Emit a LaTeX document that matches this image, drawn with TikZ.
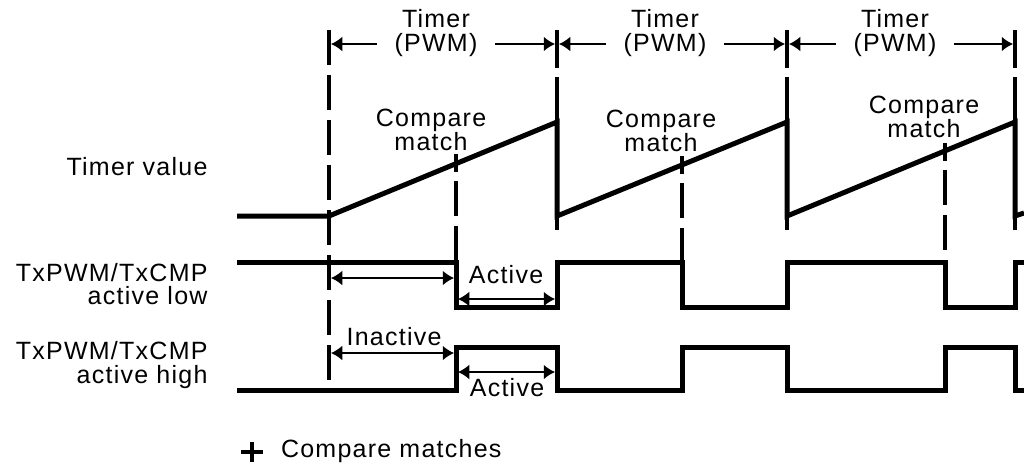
\documentclass[tikz,border=0pt]{standalone}
\usepackage{fontspec}
\setmainfont{Liberation Sans}[LetterSpace=5]
\usepackage{tikz}
\usetikzlibrary{arrows.meta, positioning, calc}

\begin{document}
\begin{tikzpicture}[x=0.4pt, y=-0.4pt,
    font=\fontsize{10}{9.4}\selectfont,
    sig/.style={line width=2pt, line join=miter},
    perline/.style={line width=1.6pt},
    cmpline/.style={line width=1.6pt, dash pattern=on 14pt off 4pt},
    dim/.style={{Latex[length=4.5pt,width=6pt]}-{Latex[length=4.5pt,width=6pt]}, line width=0.8pt, shorten <=0.8pt, shorten >=0.8pt},
    lbl/.style={inner sep=1pt},
    siglbl/.style={align=right, anchor=east, inner sep=0pt},
]
    \useasboundingbox (0,0) rectangle (1024,462);

    % Time marks (period ends and compare matches)
    \coordinate (t0) at (329,0);
    \coordinate (t1) at (557,0);
    \coordinate (t2) at (787,0);
    \coordinate (t3) at (1015,0);
    \coordinate (m1) at (456,0);
    \coordinate (m2) at (682,0);
    \coordinate (m3) at (945,0);
    % Levels
    \coordinate (dimy) at (0,44);
    \coordinate (rlo) at (0,216);
    \coordinate (rhi) at (0,122);
    \coordinate (lohi) at (0,262);
    \coordinate (lolo) at (0,307);
    \coordinate (hihi) at (0,347);
    \coordinate (hilo) at (0,390);
    % Compare points on the ramp
    \coordinate (c1) at (456,163);
    \coordinate (c2) at (682,165);
    \coordinate (c3) at (945,152);

    % Signal names
    \node[siglbl] (tv) at (208,167) {Timer value};
    \node[siglbl] (alow) at (208,284) {TxPWM/TxCMP\\active low};
    \node[siglbl] (ahigh) at (208,365) {TxPWM/TxCMP\\active high};

    % Period lines
    \draw[cmpline] (t0|-0,30) -- (t0|-hilo);
    \foreach \t in {t1,t2,t3} {
        \draw[perline] (\t|-0,30) -- (\t|-0,68);
        \draw[perline] (\t|-0,77) -- (\t|-0,230);
    }

    % Timer (PWM) periods
    \draw[dim] (t0|-dimy) -- (t1|-dimy);
    \draw[dim] (t1|-dimy) -- (t2|-dimy);
    \draw[dim] (t2|-dimy) -- (t3|-dimy);
    \node[lbl, fill=white, align=center, inner xsep=7pt] (pwm1) at (436,33) {Timer\\(PWM)};
    \node[lbl, fill=white, align=center, inner xsep=7pt] (pwm2) at (665,33) {Timer\\(PWM)};
    \node[lbl, fill=white, align=center, inner xsep=7pt] (pwm3) at (895,33) {Timer\\(PWM)};

    % Timer value
    \draw[sig] (237,216) -- (t0|-rlo) -- (t1|-rhi) -- (t1|-rlo) -- (t2|-rhi)
        -- (t2|-rlo) -- (t3|-rhi) -- (t3|-rlo) -- (1024,213);
    \foreach \c in {c1,c2,c3} {
        \draw[perline] ($(\c)+(0,-9)$) -- ($(\c)+(0,9)$);
        \draw[cmpline] ($(\c)+(0,18)$) -- (\c|-lohi);
    }
    \node[lbl, align=center] (cm1) at (431,130) {Compare\\match};
    \node[lbl, align=center] (cm2) at (661,131) {Compare\\match};
    \node[lbl, align=center] (cm3) at (924,117) {Compare\\match};

    % Active low
    \draw[sig] (237,262) -- (m1|-lohi) -- (m1|-lolo) -- (t1|-lolo) -- (t1|-lohi)
        -- (m2|-lohi) -- (m2|-lolo) -- (t2|-lolo) -- (t2|-lohi) -- (m3|-lohi)
        -- (m3|-lolo) -- (t3|-lolo) -- (t3|-lohi) -- (1024,262);
    \draw[dim] (t0|-0,278) -- (m1|-0,278);
    \draw[dim] (m1|-0,299) -- (t1|-0,299);
    \node[lbl] (act1) at (506,275) {Active};

    % Active high
    \draw[sig] (237,390) -- (m1|-hilo) -- (m1|-hihi) -- (t1|-hihi) -- (t1|-hilo)
        -- (m2|-hilo) -- (m2|-hihi) -- (t2|-hihi) -- (t2|-hilo) -- (m3|-hilo)
        -- (m3|-hihi) -- (t3|-hihi) -- (t3|-hilo) -- (1024,390);
    \draw[dim] (t0|-0,353) -- (m1|-0,353);
    \draw[dim] (m1|-0,372) -- (t1|-0,372);
    \node[lbl] (inact) at (394,337) {Inactive};
    \node[lbl] (act2) at (507,388) {Active};

    % Legend
    \draw[perline] (241,452) -- (263,452);
    \draw[perline] (252,442) -- (252,462);
    \node[lbl, anchor=west] (leg) at (278,451) {Compare matches};
\end{tikzpicture}
\end{document}
